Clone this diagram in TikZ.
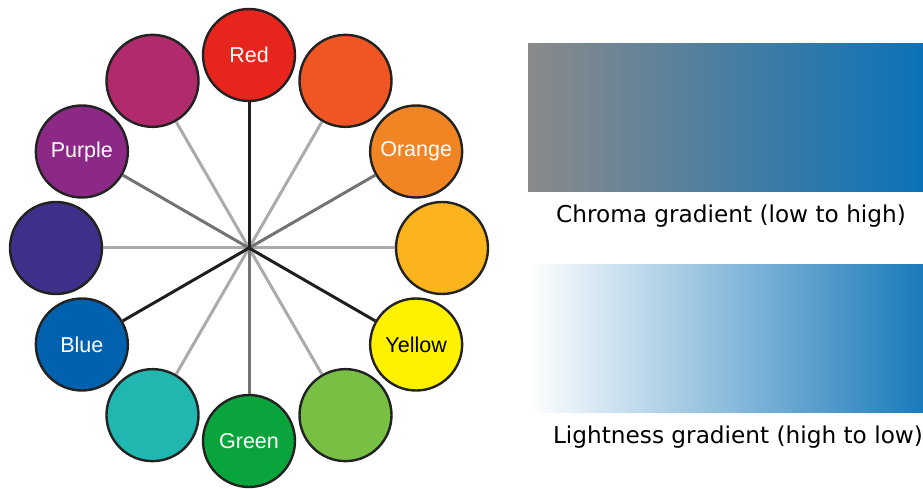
\documentclass[tikz,border=0pt]{standalone}
\usepackage{fontspec}
\setmainfont{DejaVu Sans}
\newfontfamily\huefont{Liberation Sans}
\usepackage{xcolor}
\definecolor{hueR}{HTML}{E8251C}
\definecolor{hueRO}{HTML}{EF5623}
\definecolor{hueO}{HTML}{F28523}
\definecolor{hueYO}{HTML}{FBB41E}
\definecolor{hueY}{HTML}{FFF200}
\definecolor{hueYG}{HTML}{77C043}
\definecolor{hueG}{HTML}{0AA43C}
\definecolor{hueBG}{HTML}{1FB7B0}
\definecolor{hueB}{HTML}{0061AE}
\definecolor{hueBV}{HTML}{3E3088}
\definecolor{hueP}{HTML}{8C2886}
\definecolor{hueRV}{HTML}{B02A6C}
\definecolor{rimgray}{HTML}{222222}
\definecolor{chromalow}{HTML}{8A8A8A}
\definecolor{chromahigh}{HTML}{0A72B8}
\definecolor{lighthigh}{HTML}{1A7ABA}
\usepackage{tikz}
\usetikzlibrary{calc}
\usetikzlibrary{positioning}
\newcommand{\wheelradius}{193}
\tikzset{
    hue/.style={draw=rimgray, line width=2.4pt, circle, minimum size=92pt, inner sep=0pt,
        font=\huefont\fontsize{21.5}{24}\selectfont},
    spoke/.style={line width=3pt},
    spoke-primary/.style={spoke, color=black!88},
    spoke-secondary/.style={spoke, color=black!55},
    spoke-tertiary/.style={spoke, color=black!33},
    bar/.style={minimum width=395pt, minimum height=148pt, inner sep=0pt},
    caption/.style={font=\fontsize{23.2}{27}\selectfont, inner sep=0pt}
}

\begin{document}
\begin{tikzpicture}[x=1pt, y=1pt]
    \useasboundingbox (0,0) rectangle (923,489);
    \coordinate (hub) at (249,241);

    % twelve hues, clockwise from the top
    \foreach \i/\col/\txt/\tc in {0/hueR/Red/white, 1/hueRO//white, 2/hueO/Orange/white,
        3/hueYO//white, 4/hueY/Yellow/black, 5/hueYG//white, 6/hueG/Green/white,
        7/hueBG//white, 8/hueB/Blue/white, 9/hueBV//white, 10/hueP/Purple/white,
        11/hueRV//white}
        \node[hue, fill=\col, text=\tc] (hue\i) at ($(hub)+({90-30*\i}:\wheelradius)$) {\txt};

    \foreach \i in {1,3,5,7,9,11}
        \draw[spoke-tertiary] (hub) -- (hue\i);
    \foreach \i in {2,6,10}
        \draw[spoke-secondary] (hub) -- (hue\i);
    \foreach \i in {0,4,8}
        \draw[spoke-primary] (hub) -- (hue\i);

    % gradients
    \node[bar, left color=chromalow, right color=chromahigh] (chroma) at (725.5,371) {};
    \node[caption] (chromatxt) at (731,273) {Chroma gradient (low to high)};
    \node[bar, left color=white, right color=lighthigh] (light) at (725.5,150) {};
    \node[caption] (lighttxt) at (738,52) {Lightness gradient (high to low)};
\end{tikzpicture}
\end{document}
